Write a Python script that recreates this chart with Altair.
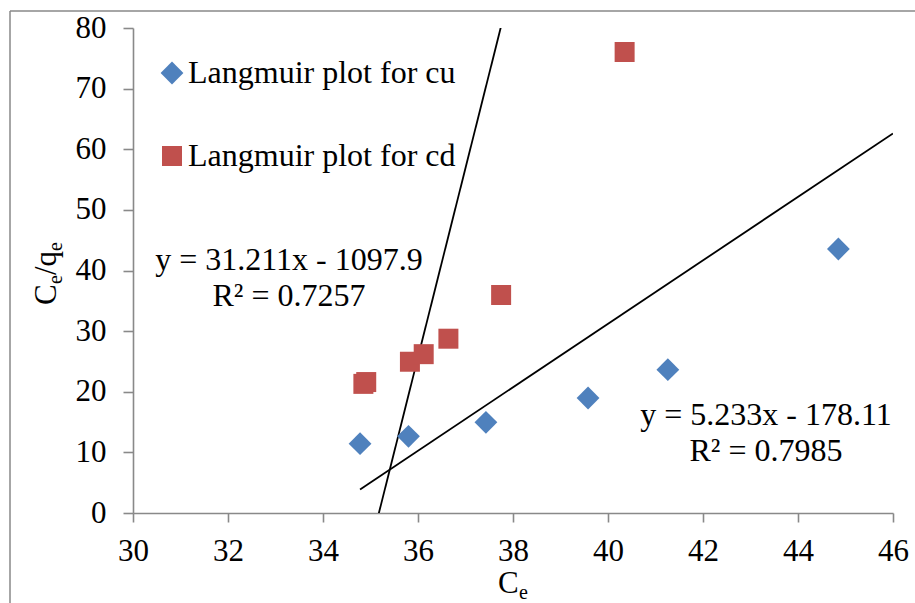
import altair as alt
import pandas as pd

# Langmuir linearisation: Ce against Ce/qe for each metal
cu_ce = [34.78, 35.80, 37.43, 39.58, 41.26, 44.85]
cu_ratio = [11.43, 12.64, 14.95, 18.97, 23.64, 43.55]
cd_ce = [34.85, 34.91, 35.83, 36.12, 36.64, 37.75, 40.35]
cd_ratio = [21.30, 21.60, 24.95, 26.20, 28.75, 35.96, 76.04]

series_names = ["Langmuir plot for cu", "Langmuir plot for cd"]
series_colors = ["#4F81BD", "#C0504D"]
series_shapes = ["diamond", "square"]
series_sizes = [520, 400]

# linear trendlines as reported
fit_slope = [5.233, 31.211]
fit_intercept = [-178.11, -1097.9]
fit_r2 = ["0.7985", "0.7257"]
fit_labels = ["y = 5.233x - 178.11", "y = 31.211x - 1097.9"]
# cu trendline is extended forward to the end of the axis
fit_x_end = [46.0, max(cd_ce)]

x_ticks = list(range(30, 47, 2))
y_ticks = list(range(0, 81, 10))

FONT = "Liberation Serif"
AXIS_GRAY = "#898989"

points = pd.DataFrame(
    {
        "Ce": cu_ce + cd_ce,
        "ratio": cu_ratio + cd_ratio,
        "series": [series_names[0]] * len(cu_ce) + [series_names[1]] * len(cd_ce),
    }
)

fit_rows = []
starts = [min(cu_ce), min(cd_ce)]
for name, m, b, x0, x1 in zip(series_names, fit_slope, fit_intercept, starts, fit_x_end):
    for xv in (x0, x1):
        fit_rows.append({"series": name, "Ce": xv, "ratio": m * xv + b})
fits = pd.DataFrame(fit_rows)

W, H = 760, 485
x_scale = alt.Scale(domain=[30, 46], nice=False, zero=False)
y_scale = alt.Scale(domain=[0, 80], nice=False)

legend = alt.Legend(
    title=None,
    orient="none",
    legendX=23,
    legendY=29,
    padding=0,
    labelFont=FONT,
    labelFontSize=32,
    labelColor="black",
    labelLimit=0,
    labelOffset=0,
    rowPadding=51,
    symbolStrokeWidth=0,
    symbolOpacity=1,
)

x_axis = alt.Axis(
    values=x_ticks,
    format="d",
    title=None,
    grid=False,
    labelFont=FONT,
    labelFontSize=31,
    labelColor="black",
    labelPadding=14,
    labelFlush=False,
    tickSize=9,
    tickColor=AXIS_GRAY,
    tickWidth=1.6,
    domainColor=AXIS_GRAY,
    domainWidth=1.6,
)
y_axis = alt.Axis(
    values=y_ticks,
    format="d",
    title=None,
    grid=False,
    labelFont=FONT,
    labelFontSize=31,
    labelColor="black",
    labelPadding=17,
    labelFlush=False,
    tickSize=10,
    tickColor=AXIS_GRAY,
    tickWidth=1.6,
    domainColor=AXIS_GRAY,
    domainWidth=1.6,
)

scatter = alt.Chart(points).mark_point(filled=True, opacity=1).encode(
    x=alt.X("Ce:Q", scale=x_scale, axis=x_axis),
    y=alt.Y("ratio:Q", scale=y_scale, axis=y_axis),
    color=alt.Color(
        "series:N",
        scale=alt.Scale(domain=series_names, range=series_colors),
        legend=legend,
    ),
    shape=alt.Shape(
        "series:N",
        scale=alt.Scale(domain=series_names, range=series_shapes),
        legend=legend,
    ),
    size=alt.Size(
        "series:N",
        scale=alt.Scale(domain=series_names, range=series_sizes),
        legend=legend,
    ),
)

trend = alt.Chart(fits).mark_line(color="black", strokeWidth=1.8, clip=True).encode(
    x=alt.X("Ce:Q", scale=x_scale),
    y=alt.Y("ratio:Q", scale=y_scale),
    detail="series:N",
)

# equation / R² annotations
eq_df = pd.DataFrame(
    {
        "text": [
            fit_labels[1], "R\u00b2 = " + fit_r2[1],
            fit_labels[0], "R\u00b2 = " + fit_r2[0],
        ],
        "px": [156, 156, 633, 633],
        "py": [242, 278, 397, 433],
    }
)
equations = alt.Chart(eq_df).mark_text(
    font=FONT, fontSize=32, color="black", align="center", baseline="alphabetic"
).encode(
    x=alt.X("px:Q", scale=None),
    y=alt.Y("py:Q", scale=None),
    text="text:N",
)


def title_piece(texts, xs, ys, font_size, angle=0):
    df = pd.DataFrame({"text": texts, "px": xs, "py": ys})
    return alt.Chart(df).mark_text(
        font=FONT,
        fontSize=font_size,
        color="black",
        align="left",
        baseline="alphabetic",
        angle=angle,
    ).encode(
        x=alt.X("px:Q", scale=None),
        y=alt.Y("py:Q", scale=None),
        text="text:N",
    )


# axis titles: Ce and Ce/qe with subscripts
x_title_main = title_piece(["C"], [365], [565], 31)
x_title_sub = title_piece(["e"], [386], [571], 20)
y_title_main = title_piece(["C", "/q"], [-77, -77], [277, 247], 31, angle=270)
y_title_sub = title_piece(["e", "e"], [-71, -71], [256, 223], 20, angle=270)

# outer chart frame (left and top edges)
frame_left = alt.Chart(pd.DataFrame({"k": [0]})).mark_rule(
    color=AXIS_GRAY, strokeWidth=1.5
).encode(x=alt.value(-123), y=alt.value(-17), y2=alt.value(H + 100))
frame_top = alt.Chart(pd.DataFrame({"k": [0]})).mark_rule(
    color=AXIS_GRAY, strokeWidth=1.5
).encode(x=alt.value(-123), x2=alt.value(W + 40), y=alt.value(-17))

chart = (
    alt.layer(
        frame_left, frame_top, trend, scatter, equations,
        x_title_main, x_title_sub, y_title_main, y_title_sub,
    )
    .properties(
        width=W,
        height=H,
        autosize=alt.AutoSizeParams(type="none"),
        padding={"left": 133, "top": 28, "right": 22, "bottom": 90},
        background="white",
    )
    .configure_view(stroke=None)
)

chart.save("out.html", embed_options={"renderer": "svg", "actions": False})
